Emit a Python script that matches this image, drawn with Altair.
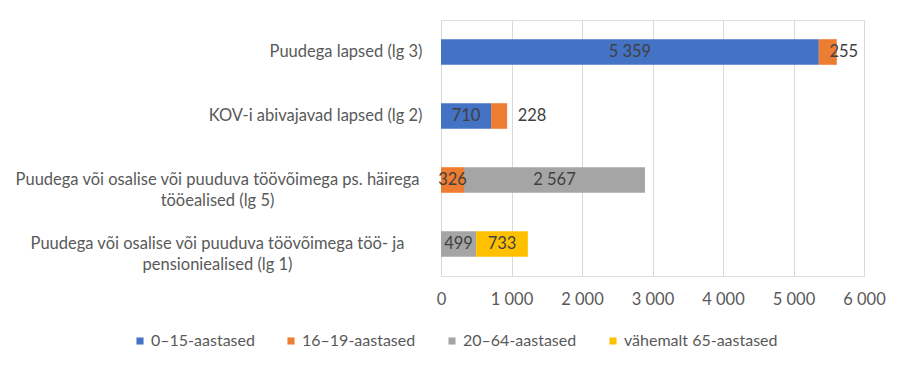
import altair as alt
import pandas as pd

categories = [
    "Puudega lapsed (lg 3)",
    "KOV-i abivajavad lapsed (lg 2)",
    "Puudega või osalise või puuduva töövõimega ps. häirega\ntööealised (lg 5)",
    "Puudega või osalise või puuduva töövõimega töö- ja\npensioniealised (lg 1)",
]
series = ["0–15-aastased", "16–19-aastased", "20–64-aastased", "vähemalt 65-aastased"]
colors = ["#4472C4", "#ED7D31", "#A5A5A5", "#FFC000"]

# values per series, aligned with categories (None = no segment)
v_0_15 = [5359, 710, None, None]
v_16_19 = [255, 228, 326, None]
v_20_64 = [None, None, 2567, 499]
v_65 = [None, None, None, 733]

rows = []
for si, (s, vals) in enumerate(zip(series, [v_0_15, v_16_19, v_20_64, v_65])):
    for c, v in zip(categories, vals):
        if v is not None:
            rows.append({"cat": c, "series": s, "order": si, "value": v})
df = pd.DataFrame(rows)

FONT = "Lato"
TXT = "#595959"
FS = 16.5

base = alt.Chart(df).transform_stack(
    stack="value", groupby=["cat"], as_=["x0", "x1"], sort=[alt.SortField("order")]
).transform_calculate(
    mid="(datum.x0 + datum.x1) / 2",
    lab="replace(format(datum.value, ','), ',', ' ')",
)

xscale = alt.Scale(domain=[0, 6000], nice=False, zero=True)
yscale = alt.Scale(domain=categories, paddingInner=0.6, paddingOuter=0.3)

bars = base.mark_bar().encode(
    x=alt.X("x0:Q", scale=xscale, title=None,
            axis=alt.Axis(values=[0, 1000, 2000, 3000, 4000, 5000, 6000],
                          labelExpr="replace(format(datum.value, ','), ',', ' ')",
                          grid=True, gridColor="#D9D9D9", domain=False, ticks=False,
                          labelFlush=False, labelOverlap=False,
                          labelPadding=15, labelColor=TXT, labelFontSize=FS, labelFont=FONT)),
    x2="x1:Q",
    y=alt.Y("cat:N", scale=yscale, title=None,
            axis=alt.Axis(domain=False, ticks=False, labelLimit=0,
                          labelExpr="split(datum.label, '\\n')",
                          labelAlign={"condition": {"test": "indexof(datum.value, '\\n') >= 0", "value": "center"}, "value": "right"},
                          labelPadding={"condition": {"test": "indexof(datum.value, '\\n') >= 0", "value": 224}, "value": 19},
                          labelLineHeight=21, labelColor=TXT, labelFontSize=FS, labelFont=FONT)),
    color=alt.Color("series:N", scale=alt.Scale(domain=series, range=colors),
                    legend=alt.Legend(title=None, orient="none", direction="horizontal", columns=4,
                                      legendX=-309, legendY=313, symbolType="square", symbolSize=50,
                                      symbolStrokeWidth=0, columnPadding=28, labelFontSize=16,
                                      labelFont=FONT, labelColor=TXT, labelOffset=3)),
    order=alt.Order("order:Q"),
)

is_special = "datum.series == '16–19-aastased' && (datum.value == 255 || datum.value == 228)"

labels = base.transform_filter("!(" + is_special + ")").mark_text(
    fontSize=FS, font=FONT, color="#404040", align="center", baseline="middle"
).encode(x=alt.X("mid:Q", scale=xscale), y=alt.Y("cat:N", scale=yscale), text="lab:N")

lab255 = base.transform_filter(is_special + " && datum.value == 255").mark_text(
    fontSize=FS, font=FONT, color="#404040", align="center", baseline="middle", dx=16
).encode(x=alt.X("mid:Q", scale=xscale), y=alt.Y("cat:N", scale=yscale), text="lab:N")

lab228 = base.transform_filter(is_special + " && datum.value == 228").mark_text(
    fontSize=FS, font=FONT, color="#404040", align="center", baseline="middle", dx=33
).encode(x=alt.X("mid:Q", scale=xscale), y=alt.Y("cat:N", scale=yscale), text="lab:N")

chart = alt.layer(bars, labels, lab255, lab228).properties(
    width=423, height=256, autosize="none",
    padding={"left": 433, "top": 12, "right": 29, "bottom": 83},
).configure_view(stroke=None).configure(font=FONT)

chart.save("out.html", embed_options={"renderer": "svg", "actions": False})
